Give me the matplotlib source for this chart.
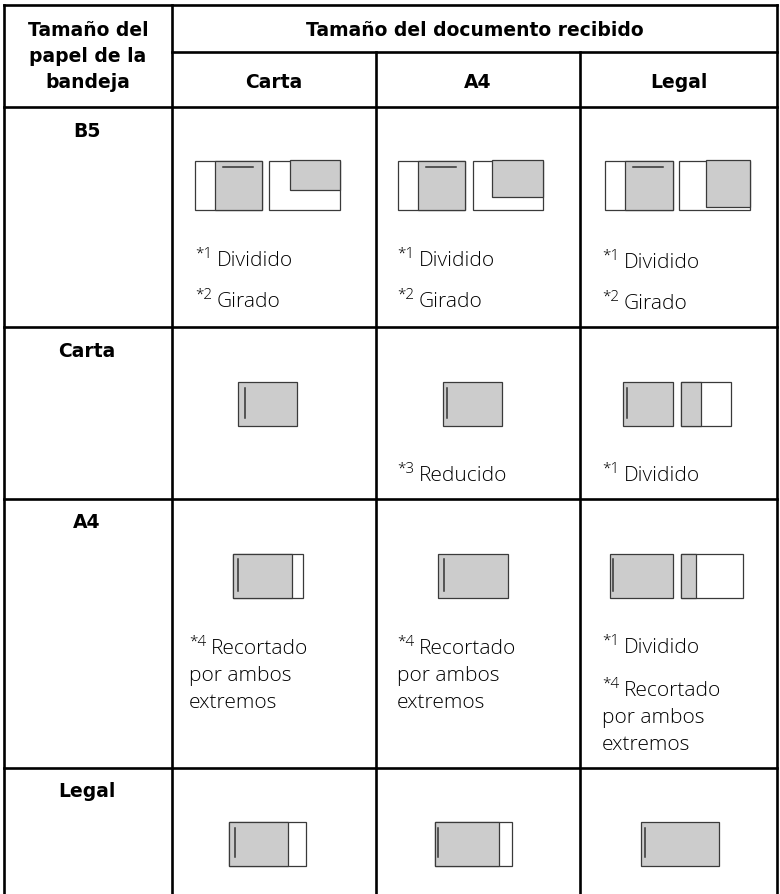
import matplotlib
matplotlib.use("Agg")
import matplotlib.pyplot as plt
from matplotlib.patches import Rectangle

# ---------------- content ----------------
corner_header = ["Tamaño del", "papel de la", "bandeja"]
group_header = "Tamaño del documento recibido"
col_labels = ["Carta", "A4", "Legal"]
row_labels = ["B5", "Carta", "A4", "Legal"]

# notes per cell: list of (superscript, list of text lines)
notes = [
    [[("*1", ["Dividido"]), ("*2", ["Girado"])],
     [("*1", ["Dividido"]), ("*2", ["Girado"])],
     [("*1", ["Dividido"]), ("*2", ["Girado"])]],
    [[],
     [("*3", ["Reducido"])],
     [("*1", ["Dividido"])]],
    [[("*4", ["Recortado", "por ambos", "extremos"])],
     [("*4", ["Recortado", "por ambos", "extremos"])],
     [("*1", ["Dividido"]), ("*4", ["Recortado", "por ambos", "extremos"])]],
    [[], [], []],
]

# ---------------- layout (pixels) ----------------
W, H = 780, 894
x_lines = [4, 172, 376, 580, 777]
y_top, y_sub = 5, 52
y_rows = [107, 327, 499, 768, 900]

HFONT = "DejaVu Sans"
BFONT = "Open Sans"
TXT = "#000000"
GRAY = "#cccccc"
EDGE = "#3a3a3a"

fig = plt.figure(figsize=(W / 100, H / 100), dpi=100)
ax = fig.add_axes([0, 0, 1, 1])
ax.set_xlim(0, W)
ax.set_ylim(H, 0)
ax.axis("off")

LW = 1.9
def hline(y, x0, x1):
    ax.plot([x0, x1], [y, y], color="black", lw=LW, solid_capstyle="projecting")
def vline(x, y0, y1):
    ax.plot([x, x], [y0, y1], color="black", lw=LW, solid_capstyle="projecting")

# grid
hline(y_top, x_lines[0], x_lines[-1])
hline(y_sub, x_lines[1], x_lines[-1])
for y in y_rows[:-1]:
    hline(y, x_lines[0], x_lines[-1])
vline(x_lines[0], y_top, H)
vline(x_lines[1], y_top, H)
for x in x_lines[2:4]:
    vline(x, y_sub, H)
vline(x_lines[-1], y_top, H)

hkw = dict(va="baseline", fontsize=13.5, fontweight="bold", family=HFONT, color="black")
# headers
for i, t in enumerate(corner_header):
    ax.text(88, 36 + 26 * i, t, ha="center", **hkw)
ax.text((x_lines[1] + x_lines[-1]) / 2, 36, group_header, ha="center", **hkw)
for j, t in enumerate(col_labels):
    ax.text((x_lines[j + 1] + x_lines[j + 2]) / 2, 88, t, ha="center", **hkw)

row_label_base = [137, 357, 528, 797]
for i, t in enumerate(row_labels):
    ax.text(87, row_label_base[i], t, ha="center", **hkw)

# notes
note_x = [[195, 397, 602], [195, 397, 602], [189, 397, 602], [195, 397, 602]]
note_base = [
    [[266, 307], [266, 307], [268, 309]],
    [[], [481], [481]],
    [[654], [654], [653, 696]],
    [[], [], []],
]
LINE_GAP = 27
bkw = dict(ha="left", va="baseline", family=BFONT, fontweight="light", color=TXT)
for i in range(4):
    for j in range(3):
        for k, (sup, lines) in enumerate(notes[i][j]):
            x0 = note_x[i][j]
            yb = note_base[i][j][k]
            s = ax.text(x0, yb - 8, sup, fontsize=11, **bkw)
            ax.annotate(lines[0], xy=(1, yb), xycoords=(s, "data"),
                        xytext=(3.5, 0), textcoords="offset points",
                        fontsize=15, **bkw)
            for m, ln in enumerate(lines[1:], start=1):
                ax.text(x0, yb + LINE_GAP * m, ln, fontsize=15, **bkw)

# ---------------- diagrams ----------------
def rect(x0, y0, x1, y1, fill):
    ax.add_patch(Rectangle((x0, y0), x1 - x0, y1 - y0, facecolor=fill,
                           edgecolor=EDGE, lw=0.9))

def vmark(x, y0, y1):
    ax.plot([x, x], [y0, y1], color="#333333", lw=1.1)

def hmark(y, x0, x1):
    ax.plot([x0, x1], [y, y], color="#333333", lw=1.1)

# B5 row: split + rotated
b5_split = [(195, 215, 262), (398, 418, 465), (605, 625, 673)]
b5_rot = [(269, 290, 340, 190), (473, 492, 543, 197), (679, 706, 750, 207)]
for (xa, xg, xb), (ra, rg, rb, ry) in zip(b5_split, b5_rot):
    rect(xa, 161, xb, 210, "white")
    rect(xg, 161, xb, 210, GRAY)
    hmark(167, xg + 8, xg + 38)
    rect(ra, 161, rb, 210, "white")
    rect(rg, 160, rb, ry, GRAY)

# Carta row
cy0, cy1 = 382, 426
rect(238, cy0, 297, cy1, GRAY); vmark(245, cy0 + 6, cy1 - 8)
rect(443, cy0, 502, cy1, GRAY); vmark(447, cy0 + 6, cy1 - 8)
rect(623, cy0, 673, cy1, GRAY); vmark(627, cy0 + 6, cy1 - 8)
rect(681, cy0, 731, cy1, "white"); rect(681, cy0, 701, cy1, GRAY)

# A4 row
ay0, ay1 = 554, 598
rect(233, ay0, 303, ay1, "white"); rect(233, ay0, 292, ay1, GRAY); vmark(238, ay0 + 5, ay1 - 7)
rect(438, ay0, 508, ay1, GRAY); vmark(444, ay0 + 5, ay1 - 7)
rect(610, ay0, 673, ay1, GRAY); vmark(613, ay0 + 5, ay1 - 7)
rect(681, ay0, 743, ay1, "white"); rect(681, ay0, 696, ay1, GRAY)

# Legal row
ly0, ly1 = 822, 866
rect(229, ly0, 306, ly1, "white"); rect(229, ly0, 288, ly1, GRAY); vmark(235, ly0 + 6, ly1 - 9)
rect(435, ly0, 512, ly1, "white"); rect(435, ly0, 499, ly1, GRAY); vmark(438, ly0 + 6, ly1 - 9)
rect(641, ly0, 719, ly1, GRAY); vmark(645, ly0 + 6, ly1 - 9)

fig.savefig("out.png", dpi=100, facecolor="white")
